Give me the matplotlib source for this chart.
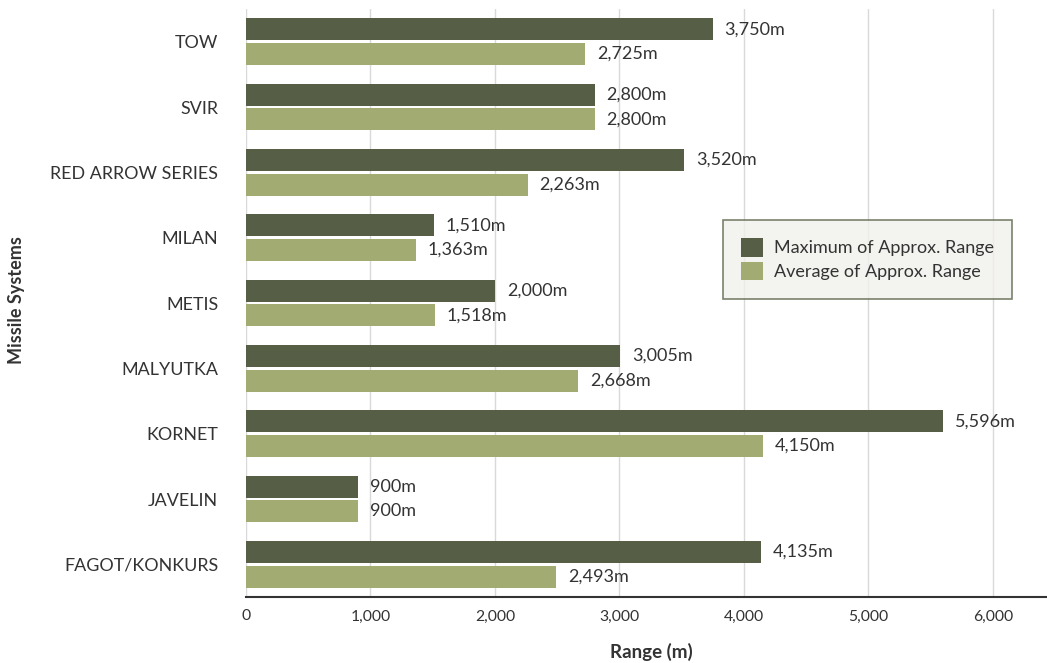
import matplotlib
matplotlib.use("Agg")
import matplotlib.pyplot as plt
import numpy as np
from matplotlib.patches import Patch

categories = ["TOW", "SVIR", "RED ARROW SERIES", "MILAN", "METIS", "MALYUTKA",
              "KORNET", "JAVELIN", "FAGOT/KONKURS"]
max_range = [3750, 2800, 3520, 1510, 2000, 3005, 5596, 900, 4135]
avg_range = [2725, 2800, 2263, 1363, 1518, 2668, 4150, 900, 2493]
xticks = [0, 1000, 2000, 3000, 4000, 5000, 6000]

dark = "#565F45"
light = "#A2AC72"

plt.rcParams['font.family'] = ['Lato', 'DejaVu Sans']

fig = plt.figure(figsize=(10.47, 6.63), dpi=100)
ax = fig.add_axes([246/1047, 66/663, 1 - 246/1047, (597-9)/663])

n = len(categories)
y = np.arange(n)[::-1].astype(float)
h = 0.336
off = 0.19
ax.barh(y + off, max_range, height=h, color=dark, zorder=3)
ax.barh(y - off, avg_range, height=h, color=light, zorder=3)

for yi, v in zip(y, max_range):
    ax.text(v + 95, yi + off, f"{v:,}m", va="center", ha="left", fontsize=13, color="#333333")
for yi, v in zip(y, avg_range):
    ax.text(v + 95, yi - off, f"{v:,}m", va="center", ha="left", fontsize=13, color="#333333")

ax.set_xlim(0, 6434)
ax.set_ylim(-0.5, n - 0.5)
ax.set_yticks(y)
ax.set_yticklabels(categories, fontsize=12.9, color="#333333")
ax.set_xticks(xticks)
ax.set_xticklabels([f"{t:,}" for t in xticks], fontsize=11.3, color="#333333")
ax.tick_params(axis="both", length=0)
ax.tick_params(axis="y", pad=20)
ax.tick_params(axis="x", pad=9)
ax.grid(axis="x", color="#d9d9d9", linewidth=1, zorder=0)
for s in ["top", "right", "left"]:
    ax.spines[s].set_visible(False)
ax.spines["bottom"].set_color("#333333")
ax.spines["bottom"].set_linewidth(1.5)
ax.spines["bottom"].set_zorder(4)

fig.text(651/1047, 1 - 652/663, "Range (m)", ha="center", va="center",
         fontsize=13.5, fontweight="bold", color="#333333")
fig.text(17/1047, 1 - 300/663, "Missile Systems", ha="center", va="center",
         rotation=90, fontsize=13, fontweight="bold", color="#333333")

handles = [Patch(facecolor=dark, edgecolor="none", label="Maximum of Approx. Range"),
           Patch(facecolor=light, edgecolor="none", label="Average of Approx. Range")]
leg = fig.legend(handles=handles, loc="upper left",
                 bbox_to_anchor=(723/1047, 1 - 220/663), borderaxespad=0,
                 fontsize=13, frameon=True, fancybox=False,
                 handlelength=1.2, handleheight=1.2, handletextpad=0.6,
                 borderpad=1.0, labelspacing=0.3)
leg.get_frame().set_facecolor("#F1F0EB")
leg.get_frame().set_edgecolor("#5B6349")
leg.get_frame().set_linewidth(1.2)
for t in leg.get_texts():
    t.set_color("#333333")

fig.savefig("out.png", dpi=100)
